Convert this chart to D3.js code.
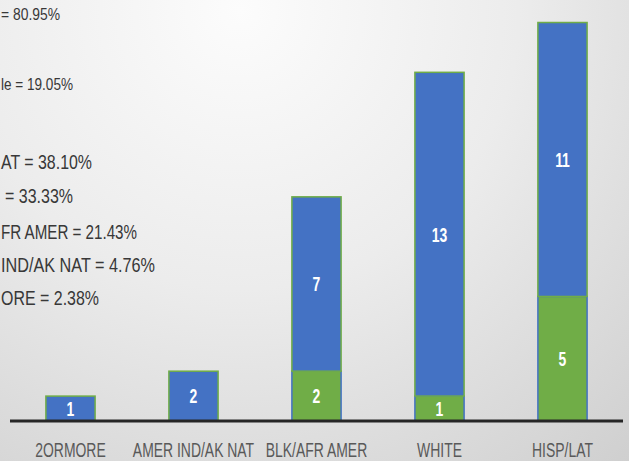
<!DOCTYPE html>
<html>
<head>
<meta charset="utf-8">
<script src="https://cdn.jsdelivr.net/npm/d3@7"></script>
<style>
  html, body { margin: 0; padding: 0; overflow: hidden; }
  svg { display: block; }
</style>
</head>
<body>
<svg id="chart" width="629" height="461"></svg>
<script>
// ---- data ----
const categories = ["2ORMORE", "AMER IND/AK NAT", "BLK/AFR AMER", "WHITE", "HISP/LAT"];
const greenValues = [0, 0, 2, 1, 5];
const blueValues  = [1, 2, 7, 13, 11];
const sideNotes = [
  "= 80.95%",
  "le = 19.05%",
  "AT = 38.10%",
  "= 33.33%",
  "FR AMER = 21.43%",
  "IND/AK NAT = 4.76%",
  "ORE = 2.38%"
];

// ---- layout ----
const W = 629, H = 461;
const svg = d3.select("#chart");
const defs = svg.append("defs");
const grad = defs.append("radialGradient")
  .attr("id", "bg").attr("gradientUnits", "userSpaceOnUse")
  .attr("cx", 240).attr("cy", 10).attr("r", 620);
grad.append("stop").attr("offset", "0%").attr("stop-color", "#fcfcfc");
grad.append("stop").attr("offset", "45%").attr("stop-color", "#ececec");
grad.append("stop").attr("offset", "100%").attr("stop-color", "#cdcdcd");
svg.append("rect").attr("width", W).attr("height", H).attr("fill", "url(#bg)");

const x = d3.scaleBand().domain(categories).range([9, 624]).paddingInner(0.6).paddingOuter(0.3);
const y = d3.scaleLinear().domain([0, 16]).range([421, 22.5]);

const rows = categories.map((c, i) => ({cat: c, green: greenValues[i], blue: blueValues[i]}));
const stack = d3.stack().keys(["green", "blue"])(rows);
const fills = {green: "#70AD47", blue: "#4472C4"};
const strokes = {green: "#4472C4", blue: "#70AD47"};

const font = "'Liberation Sans', Arial, sans-serif";
const SX = 0.82; // horizontal condensing (narrow face)

stack.forEach(layer => {
  const g = svg.append("g");
  layer.forEach(d => {
    const v = d[1] - d[0];
    if (v <= 0) return;
    const x0 = x(d.data.cat), bw = x.bandwidth();
    g.append("rect")
      .attr("x", x0).attr("y", y(d[1]))
      .attr("width", bw).attr("height", y(d[0]) - y(d[1]))
      .attr("fill", fills[layer.key])
      .attr("stroke", strokes[layer.key]).attr("stroke-width", 1.5);
    const cx = x0 + bw / 2, cy = (y(d[0]) + y(d[1])) / 2;
    g.append("text")
      .attr("transform", `translate(${cx},${cy}) scale(${SX},1.2)`)
      .attr("text-anchor", "middle").attr("dy", "0.36em")
      .attr("font-family", font).attr("font-weight", "bold")
      .attr("font-size", 17).attr("fill", "#ffffff")
      .text(v);
  });
});

// axis baseline + category labels
const axis = d3.axisBottom(x).tickSize(0).tickPadding(0);
const ag = svg.append("g").attr("transform", `translate(0,${y(0)})`).call(axis);
ag.select(".domain").attr("d", "M10,0H623").attr("stroke", "#262626").attr("stroke-width", 3);
ag.selectAll(".tick text")
  .attr("y", 0).attr("dy", 0)
  .attr("transform", `translate(0,35.5) scale(${SX},1.15)`)
  .attr("font-family", font).attr("font-size", 17)
  .attr("fill", "#595959");

// side notes (partially cropped text on the left)
const noteLeft  = [1, 1, 1, 5, 1, 1, 1];
const noteWidth = [59, 72, 91, 68, 136, 154, 98];
const noteBase  = [20, 90, 169, 203, 239, 272, 305];
const noteSize  = [17, 17, 19.5, 19.5, 19.5, 19.5, 19.5];
svg.append("g").selectAll("text").data(sideNotes).join("text")
  .attr("x", (d, i) => noteLeft[i]).attr("y", (d, i) => noteBase[i])
  .attr("textLength", (d, i) => noteWidth[i])
  .attr("lengthAdjust", "spacingAndGlyphs")
  .attr("font-family", font)
  .attr("font-size", (d, i) => noteSize[i])
  .attr("fill", "#383838")
  .text(d => d);
</script>
</body>
</html>
